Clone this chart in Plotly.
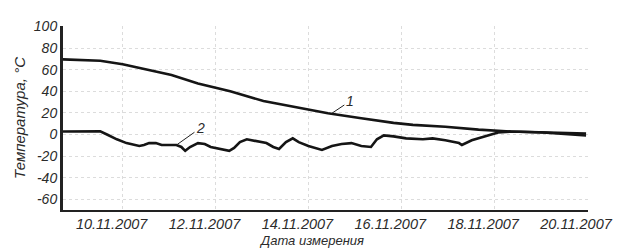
import plotly.graph_objects as go

# Curve 1
dates1 = ["2007-11-08 17:00", "2007-11-09 12:24", "2007-11-10 00:00", "2007-11-11 01:15",
          "2007-11-11 14:55", "2007-11-12 07:35", "2007-11-13 00:45", "2007-11-13 17:25",
          "2007-11-14 10:05", "2007-11-15 03:20", "2007-11-15 20:00", "2007-11-16 06:00",
          "2007-11-16 22:45", "2007-11-17 15:55", "2007-11-18 08:35", "2007-11-19 23:30"]
temp1 = [69.6, 68.3, 65.0, 55.0, 47.3, 40.0, 31.0, 25.0, 19.6, 15.0, 10.7, 8.9, 7.1, 4.5, 2.7, 0.9]

# Curve 2
dates2 = ["2007-11-08 17:00", "2007-11-09 02:18", "2007-11-09 12:24", "2007-11-09 15:54",
          "2007-11-09 21:00", "2007-11-10 02:00", "2007-11-10 08:36", "2007-11-10 11:00",
          "2007-11-10 13:40", "2007-11-10 17:10", "2007-11-10 20:10", "2007-11-11 03:48",
          "2007-11-11 06:20", "2007-11-11 08:20", "2007-11-11 10:50", "2007-11-11 14:55",
          "2007-11-11 18:25", "2007-11-11 21:30", "2007-11-12 02:30", "2007-11-12 07:05",
          "2007-11-12 09:36", "2007-11-12 12:36", "2007-11-12 16:10", "2007-11-12 21:15",
          "2007-11-13 02:18", "2007-11-13 05:50", "2007-11-13 08:50", "2007-11-13 12:24",
          "2007-11-13 15:55", "2007-11-13 19:00", "2007-11-14 00:00", "2007-11-14 07:00",
          "2007-11-14 12:10", "2007-11-14 17:10", "2007-11-14 22:15", "2007-11-15 03:20",
          "2007-11-15 08:20", "2007-11-15 11:25", "2007-11-15 15:00", "2007-11-15 20:00",
          "2007-11-16 02:30", "2007-11-16 11:10", "2007-11-16 16:10", "2007-11-16 22:45",
          "2007-11-17 05:50", "2007-11-17 07:20", "2007-11-17 12:25", "2007-11-17 19:00",
          "2007-11-18 02:00", "2007-11-18 08:35", "2007-11-19 01:15", "2007-11-19 23:30"]
temp2 = [2.7, 2.9, 2.9, 0.0, -4.5, -8.0, -10.7, -9.8, -8.0, -8.0, -9.8, -9.8,
         -11.6, -15.2, -11.6, -8.0, -8.9, -11.6, -13.4, -15.2, -12.5, -7.1, -4.5, -6.3,
         -8.0, -11.6, -13.4, -7.1, -3.6, -7.1, -10.7, -14.3, -10.7, -8.9, -8.0, -10.7,
         -11.6, -4.5, -0.9, -1.8, -3.6, -4.5, -3.6, -5.4, -8.0, -9.8, -5.4, -1.8,
         1.8, 2.7, 1.8, -0.9]

tick_dates = ["2007-11-10", "2007-11-12", "2007-11-14", "2007-11-16", "2007-11-18", "2007-11-20"]
tick_labels = ["10.11.2007", "12.11.2007", "14.11.2007", "16.11.2007", "18.11.2007", "20.11.2007"]
y_ticks = [100, 80, 60, 40, 20, 0, -20, -40, -60]

label1 = ("2007-11-14 12:06", 19.6, "1")
label2 = ("2007-11-11 03:48", -9.8, "2")

FONT = "Liberation Sans, Arial, sans-serif"
TXT = "#2b2b2b"

fig = go.Figure()
fig.add_trace(go.Scatter(x=dates1, y=temp1, mode="lines", name="1",
                         line=dict(color="#151515", width=2.6)))
fig.add_trace(go.Scatter(x=dates2, y=temp2, mode="lines", name="2",
                         line=dict(color="#151515", width=2.6)))

for (xd, yv, t), (ax, ay) in [(label1, (18, -12)), (label2, (24, -17))]:
    fig.add_annotation(x=xd, y=yv, text="<i>" + t + "</i>", showarrow=True, arrowhead=0,
                       arrowwidth=1, arrowcolor="#222", ax=ax, ay=ay,
                       font=dict(family=FONT, size=14, color=TXT))

fig.add_annotation(xref="paper", yref="paper", x=(316 - 62) / 536, y=-32 / 192,
                   yanchor="middle", text="<i>Дата измерения</i>", showarrow=False,
                   font=dict(family=FONT, size=13, color=TXT))

# page body adds an 8px offset; figure is sized so the plot area lands at x 62-598, y 18-210
fig.update_layout(
    width=615, height=241,
    margin=dict(l=54, r=25, t=10, b=39),
    paper_bgcolor="white", plot_bgcolor="white",
    showlegend=False,
    font=dict(family=FONT, color=TXT),
    xaxis=dict(
        type="date",
        range=["2007-11-08 17:10", "2007-11-20 00:30"],
        tickvals=tick_dates, ticktext=["<i>" + s + "</i>" for s in tick_labels],
        tickfont=dict(family=FONT, size=14.5, color=TXT),
        ticklabelshift=-11, ticklabeloverflow="allow",
        showgrid=True, gridcolor="#dcdcdc", griddash="dot", gridwidth=1,
        showline=True, linecolor="#222", linewidth=2,
        ticks="", zeroline=False,
    ),
    yaxis=dict(
        range=[-70, 100.5],
        tickvals=y_ticks, ticktext=["<i>" + str(v) + "</i>" for v in y_ticks],
        tickfont=dict(family=FONT, size=14, color=TXT),
        showgrid=True, gridcolor="#dcdcdc", griddash="dot", gridwidth=1,
        showline=True, linecolor="#222", linewidth=3,
        ticks="", zeroline=False,
        title=dict(text="<i>Температура, °С</i>", font=dict(family=FONT, size=15, color=TXT),
                   standoff=5),
    ),
)

fig.write_html("out.html")
